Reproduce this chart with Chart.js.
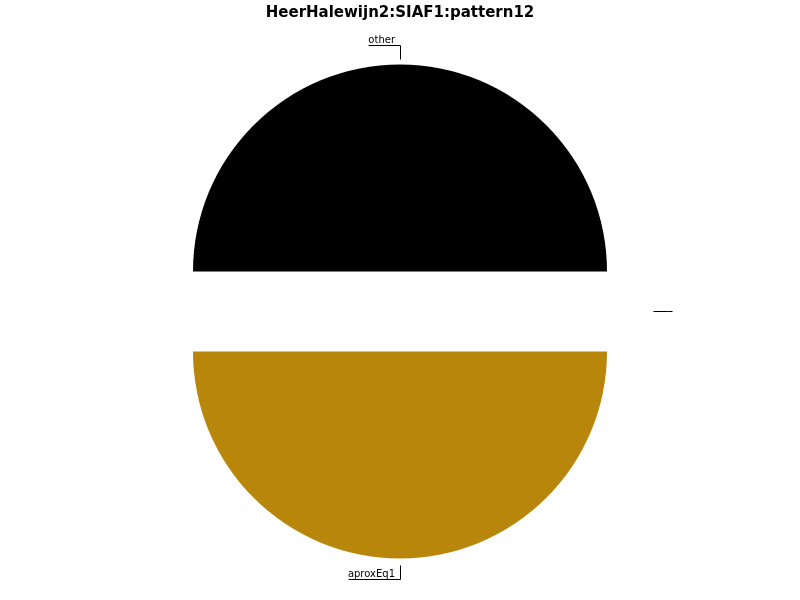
<!DOCTYPE html>
<html>
<head>
<meta charset="utf-8">
<script src="https://cdn.jsdelivr.net/npm/chart.js@4/dist/chart.umd.min.js"></script>
<style>
  html, body { margin: 0; padding: 0; background: #fff; }
  #wrap { width: 800px; height: 600px; }
</style>
</head>
<body>
<div id="wrap"><canvas id="c" width="800" height="600"></canvas></div>
<script>
const chartTitle = "HeerHalewijn2:SIAF1:pattern12";
const categories = ["aproxEq1", "other", ""];
const values = [1, 1, 0];
const sliceColors = ["#B8860B", "#000000", "#1f77b4"];
const explode = 40;

const explodePlugin = {
  id: "explode",
  beforeDatasetDraw(chart, args) {
    const ctx = chart.ctx;
    args.meta.data.forEach(arc => {
      const mid = (arc.startAngle + arc.endAngle) / 2;
      ctx.save();
      ctx.translate(Math.cos(mid) * explode, Math.sin(mid) * explode);
      arc.draw(ctx, chart.chartArea);
      ctx.restore();
    });
    return false;
  }
};

const leaderPlugin = {
  id: "leaders",
  afterDatasetsDraw(chart) {
    const ctx = chart.ctx;
    const meta = chart.getDatasetMeta(0);
    ctx.save();
    ctx.font = "10px 'DejaVu Sans'";
    ctx.strokeStyle = "#000";
    ctx.fillStyle = "#000";
    ctx.lineWidth = 1;
    meta.data.forEach((arc, i) => {
      const p = arc.getProps(["x", "y", "startAngle", "endAngle", "outerRadius"], true);
      const mid = (p.startAngle + p.endAngle) / 2;
      const cx = p.x + Math.cos(mid) * explode;
      const cy = p.y + Math.sin(mid) * explode;
      const r1 = p.outerRadius + 6;
      const r2 = p.outerRadius + 20;
      const x1 = cx + Math.cos(mid) * r1, y1 = cy + Math.sin(mid) * r1;
      const x2 = cx + Math.cos(mid) * r2, y2 = cy + Math.sin(mid) * r2;
      const label = categories[i];
      const tw = ctx.measureText(label).width;
      const dir = Math.cos(mid) > 0.01 ? 1 : -1;
      const x3 = x2 + dir * (tw + 5);
      const yy = Math.round(y2) + 0.5;
      ctx.beginPath();
      ctx.moveTo(Math.round(x1) + 0.5, Math.round(y1) + 0.5);
      ctx.lineTo(Math.round(x2) + 0.5, yy);
      ctx.lineTo(Math.round(x3) + 0.5, yy);
      ctx.stroke();
      if (label) {
        ctx.textAlign = "left";
        ctx.textBaseline = "alphabetic";
        const tx = dir > 0 ? x2 + 3 : x3;
        ctx.fillText(label, tx, yy - 2.5);
      }
    });
    ctx.restore();
  }
};

new Chart(document.getElementById("c"), {
  type: "pie",
  data: {
    labels: categories,
    datasets: [{
      data: values,
      backgroundColor: sliceColors,
      borderWidth: 0,
      offset: 0,
      hoverOffset: 0
    }]
  },
  options: {
    responsive: false,
    animation: false,
    rotation: 90,
    radius: 207,
    layout: { padding: { bottom: 9 } },
    plugins: {
      legend: { display: false },
      tooltip: { enabled: false },
      title: {
        display: true,
        text: chartTitle,
        color: "#000",
        font: { family: "'DejaVu Sans'", size: 15, weight: "bold" },
        padding: { top: 4, bottom: 10 }
      }
    }
  },
  plugins: [explodePlugin, leaderPlugin]
});
</script>
</body>
</html>
